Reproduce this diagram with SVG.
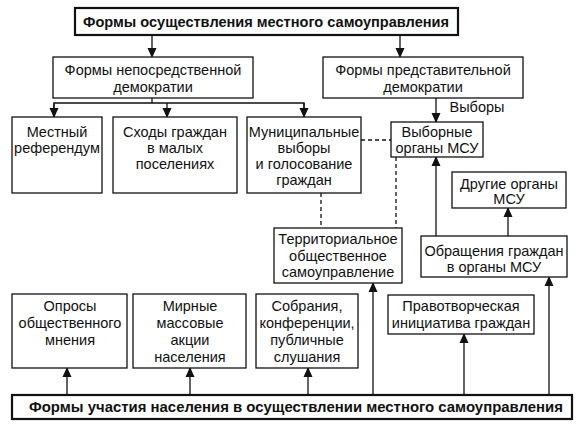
<svg xmlns="http://www.w3.org/2000/svg" width="579" height="428" viewBox="0 0 579 428">
<style>
rect.b{fill:#fff;stroke:#111;stroke-width:1.3}
rect.t{fill:#fff;stroke:#111;stroke-width:2.2}
text{font-family:"Liberation Sans",Arial,sans-serif;font-size:14.5px;fill:#111;text-anchor:middle}
text.h{font-weight:bold}
.c line,.c path{stroke:#111;stroke-width:1.3;fill:none}
.c .d{stroke-dasharray:4,3}
</style>
<defs>
<marker id="a" markerUnits="userSpaceOnUse" markerWidth="10" markerHeight="12" refX="9" refY="5" orient="auto" viewBox="0 0 10 10">
<path d="M0,0.5 L10,5 L0,9.5 z" fill="#111"/>
</marker>
</defs>
<rect width="579" height="428" fill="#fff"/>
<g class="c" id="connectors">
<line x1="152" y1="35" x2="152" y2="57" marker-end="url(#a)"/>
<line x1="400" y1="35" x2="400" y2="57" marker-end="url(#a)"/>
<line x1="152" y1="98" x2="152" y2="103"/>
<path d="M54,117 V103 H304 V117"/>
<line x1="54" y1="103" x2="54" y2="117" marker-end="url(#a)"/>
<line x1="167" y1="103" x2="167" y2="117" marker-end="url(#a)"/>
<line x1="304" y1="103" x2="304" y2="117" marker-end="url(#a)"/>
<line x1="436" y1="98" x2="436" y2="122" marker-end="url(#a)"/>
<line class="d" x1="361" y1="140" x2="391" y2="140"/>
<line class="d" x1="321" y1="193" x2="321" y2="228"/>
<line class="d" x1="396" y1="157" x2="396" y2="228"/>
<line x1="436" y1="236" x2="436" y2="157" marker-end="url(#a)"/>
<line x1="508" y1="236" x2="508" y2="208" marker-end="url(#a)"/>
<line x1="549" y1="395" x2="549" y2="277" marker-end="url(#a)"/>
<line x1="464" y1="395" x2="464" y2="334" marker-end="url(#a)"/>
<line x1="373" y1="395" x2="373" y2="283" marker-end="url(#a)"/>
<line x1="308" y1="395" x2="308" y2="368" marker-end="url(#a)"/>
<line x1="190" y1="395" x2="190" y2="368" marker-end="url(#a)"/>
<line x1="67" y1="395" x2="67" y2="368" marker-end="url(#a)"/>
<text x="477" y="112">Выборы</text>
</g>
<g id="top"><rect class="t" x="75" y="8" width="383" height="27"/><text class="h" x="266" y="27" textLength="366" lengthAdjust="spacingAndGlyphs">Формы осуществления местного самоуправления</text></g>
<g id="direct"><rect class="b" x="53" y="57" width="200" height="41"/><text x="153" y="75">Формы непосредственной</text><text x="153" y="92">демократии</text></g>
<g id="repr"><rect class="b" x="323" y="57" width="200" height="41"/><text x="423" y="75">Формы представительной</text><text x="423" y="92">демократии</text></g>
<g id="referendum"><rect class="b" x="12" y="117" width="90" height="76"/><text x="57" y="137">Местный</text><text x="57" y="153">референдум</text></g>
<g id="shody"><rect class="b" x="113" y="117" width="124" height="76"/><text x="175" y="137">Сходы граждан</text><text x="175" y="153">в малых</text><text x="175" y="169">поселениях</text></g>
<g id="vybory"><rect class="b" x="247" y="117" width="114" height="76"/><text x="304" y="137">Муниципальные</text><text x="304" y="153">выборы</text><text x="304" y="169">и голосование</text><text x="304" y="185">граждан</text></g>
<g id="organy"><rect class="b" x="391" y="122" width="92" height="35"/><text x="437" y="137">Выборные</text><text x="437" y="153">органы МСУ</text></g>
<g id="drugie"><rect class="b" x="452" y="172" width="114" height="36"/><text x="509" y="189">Другие органы</text><text x="509" y="204">МСУ</text></g>
<g id="tos"><rect class="b" x="274" y="228" width="128" height="55"/><text x="338" y="244">Территориальное</text><text x="338" y="261">общественное</text><text x="338" y="277">самоуправление</text></g>
<g id="obr"><rect class="b" x="421" y="236" width="146" height="41"/><text x="494" y="256">Обращения граждан</text><text x="494" y="272">в органы МСУ</text></g>
<g id="oprosy"><rect class="b" x="12" y="294" width="115" height="74"/><text x="70" y="311">Опросы</text><text x="70" y="328">общественного</text><text x="70" y="345">мнения</text></g>
<g id="mirnye"><rect class="b" x="133" y="294" width="113" height="74"/><text x="190" y="311">Мирные</text><text x="190" y="328">массовые</text><text x="190" y="345">акции</text><text x="190" y="362">населения</text></g>
<g id="sobr"><rect class="b" x="256" y="294" width="102" height="74"/><text x="307" y="311">Собрания,</text><text x="307" y="328">конференции,</text><text x="307" y="345">публичные</text><text x="307" y="362">слушания</text></g>
<g id="prav"><rect class="b" x="388" y="295" width="146" height="39"/><text x="461" y="311">Правотворческая</text><text x="461" y="328">инициатива граждан</text></g>
<g id="bottom"><rect class="t" x="12" y="395" width="560" height="24"/><text class="h" x="296" y="412" textLength="534" lengthAdjust="spacingAndGlyphs">Формы участия населения в осуществлении местного самоуправления</text></g>
</svg>
